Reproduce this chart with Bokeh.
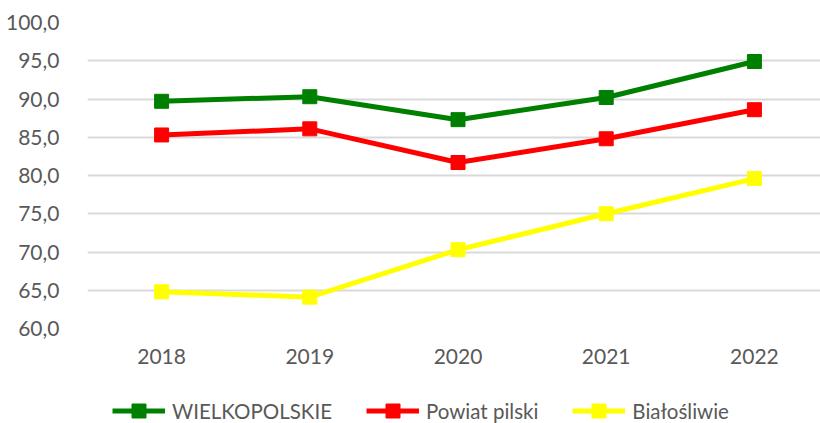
from bokeh.plotting import figure
from bokeh.models import Range1d, FixedTicker, Legend, LegendItem
from bokeh.layouts import column
from bokeh.embed import file_html
from bokeh.resources import INLINE

years = ["2018", "2019", "2020", "2021", "2022"]
wielkopolskie = [89.7, 90.3, 87.3, 90.2, 94.9]
powiat_pilski = [85.3, 86.1, 81.7, 84.8, 88.6]
bialosliwie = [64.8, 64.1, 70.3, 75.0, 79.6]
y_ticks = [60, 65, 70, 75, 80, 85, 90, 95, 100]
y_tick_labels = ["60,0", "65,0", "70,0", "75,0", "80,0", "85,0", "90,0", "95,0", "100,0"]
series_names = ["WIELKOPOLSKIE", "Powiat pilski", "Białośliwie"]
colors = ["#008000", "#FF0000", "#FFFF00"]
series = [wielkopolskie, powiat_pilski, bialosliwie]

FONT = "Lato"
TXT = "#595959"

xs = list(range(len(years)))

p = figure(width=820, height=370, output_backend="svg", toolbar_location=None,
           x_range=Range1d(-0.5, 4.446), y_range=Range1d(60, 100),
           min_border_left=87, min_border_right=0, min_border_top=22, min_border_bottom=42)
p.outline_line_color = None
p.background_fill_color = "white"
p.border_fill_color = "white"

p.xaxis.ticker = FixedTicker(ticks=xs)
p.xaxis.major_label_overrides = {i: y for i, y in enumerate(years)}
p.yaxis.ticker = FixedTicker(ticks=y_ticks)
p.yaxis.major_label_overrides = {t: l for t, l in zip(y_ticks, y_tick_labels)}
for ax in (p.xaxis, p.yaxis):
    ax.axis_line_color = None
    ax.major_tick_line_color = None
    ax.minor_tick_line_color = None
    ax.major_label_text_font = FONT
    ax.major_label_text_font_size = "21px"
    ax.major_label_text_color = TXT
p.xaxis.major_label_standoff = 14
p.yaxis.major_label_standoff = 22
p.xgrid.grid_line_color = None
p.ygrid.grid_line_color = "#D9D9D9"
p.ygrid.grid_line_width = 2

for vals, c in zip(series, colors):
    p.line(xs, vals, line_color=c, line_width=5)
    p.scatter(xs, vals, marker="square", size=14, fill_color=c, line_color=c)

# legend strip: same series drawn outside its visible range, only the legend shows
lf = figure(width=820, height=53, output_backend="svg", toolbar_location=None,
            x_range=Range1d(-0.5, 4.446), y_range=Range1d(0, 1),
            min_border_left=0, min_border_right=0, min_border_top=0, min_border_bottom=0)
lf.axis.visible = False
lf.grid.visible = False
lf.outline_line_color = None
items = []
for name, vals, c in zip(series_names, series, colors):
    l = lf.line(xs, vals, line_color=c, line_width=5)
    s = lf.scatter(xs, vals, marker="square", size=14, fill_color=c, line_color=c)
    items.append(LegendItem(label=name, renderers=[l, s]))

legend = Legend(items=items, orientation="horizontal", location=(25, -5),
                label_text_font=FONT, label_text_font_size="20.5px", label_text_color=TXT,
                glyph_width=53, glyph_height=35, label_standoff=7, spacing=34,
                border_line_color=None, background_fill_alpha=0, margin=0, padding=0)
lf.add_layout(legend)

layout = column(p, lf, spacing=0)
open("out.html", "w").write(file_html(layout, INLINE))
